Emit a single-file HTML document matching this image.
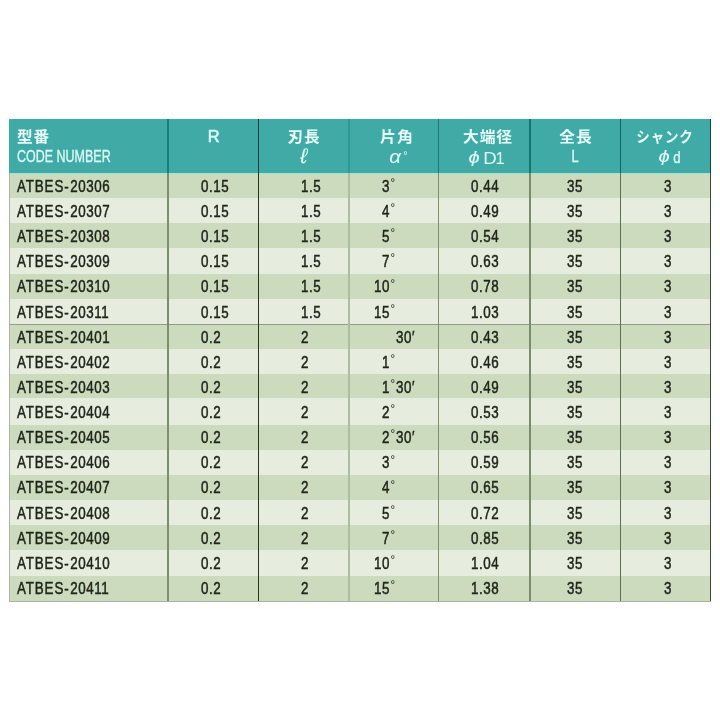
<!DOCTYPE html>
<html lang="ja"><head><meta charset="utf-8"><title>ATBES</title>
<style>
html,body{margin:0;padding:0;background:#fff;}
body{width:720px;height:720px;position:relative;overflow:hidden;font-family:"Liberation Sans","Noto Sans CJK JP",sans-serif;}
#t{position:absolute;left:9px;top:119px;width:702px;height:483px;}
#h{position:absolute;left:0;top:-.5px;width:702px;height:54px;background:#40aaa6;}
#hl{position:absolute;left:0;top:54px;width:702px;height:2px;background:linear-gradient(#a9dfcb,#c2e1c6);}
.r{position:absolute;left:0;width:702px;}
.o{background:#ccdbbd;}
.e{background:#e6edde;}
.v{position:absolute;top:-.5px;width:1px;height:483px;}
.c{position:absolute;white-space:nowrap;color:#20261b;font-size:17px;line-height:20px;height:20px;transform-origin:0 50%;transform:scaleX(.787);letter-spacing:.75px;-webkit-text-stroke:.5px #20261b;}
.ra{transform-origin:100% 50%;text-align:right;}
.hj{position:absolute;white-space:nowrap;color:#e9fffb;font-weight:bold;font-size:15px;line-height:18px;letter-spacing:.9px;transform-origin:50% 50%;}
.hs{position:absolute;white-space:nowrap;color:#dffcf8;font-size:16px;line-height:18px;transform-origin:50% 50%;}
.L{letter-spacing:1.1px}.H{margin:0 1.2px 0 .2px}.N{letter-spacing:.7px}
.st{-webkit-text-stroke:.3px #dffcf8;}
.dg{position:absolute;font-size:11.5px;line-height:16px;color:#1c1f1a;}
</style></head><body>
<div id="t">
<div id="h"></div>

<div class="r o" style="top:53.50px;height:26.20px"></div>
<div class="r e" style="top:78.70px;height:26.70px"></div>
<div class="r o" style="top:104.40px;height:26.00px"></div>
<div class="r e" style="top:129.40px;height:26.80px"></div>
<div class="r o" style="top:155.20px;height:25.30px"></div>
<div class="r e" style="top:179.50px;height:26.80px"></div>
<div class="r o" style="top:205.30px;height:25.90px"></div>
<div class="r e" style="top:230.20px;height:25.50px"></div>
<div class="r o" style="top:254.70px;height:25.60px"></div>
<div class="r e" style="top:279.30px;height:27.70px"></div>
<div class="r o" style="top:306.00px;height:25.50px"></div>
<div class="r e" style="top:330.50px;height:26.20px"></div>
<div class="r o" style="top:355.70px;height:26.30px"></div>
<div class="r e" style="top:381.00px;height:26.00px"></div>
<div class="r o" style="top:406.00px;height:25.70px"></div>
<div class="r e" style="top:430.70px;height:27.10px"></div>
<div class="r o" style="top:456.80px;height:25.40px"></div>
<div id="hl"></div>
<div style="position:absolute;left:0;top:204.5px;width:702px;height:1px;background:#8e9f83"></div>
<div class="v" style="left:158.0px;width:2px;background:#7d8e6f"></div>
<div class="v" style="left:158.0px;width:2px;height:54px;background:#157d7a"></div>
<div class="v" style="left:249.0px;width:1.2px;background:#2a331f"></div>
<div class="v" style="left:249.0px;width:1.2px;height:54px;background:#063c3c"></div>
<div class="v" style="left:338.9px;width:1.8px;background:#adbd9f"></div>
<div class="v" style="left:338.9px;width:1.8px;height:54px;background:#2f9a95"></div>
<div class="v" style="left:429.0px;width:1.2px;background:#7d8f70"></div>
<div class="v" style="left:429.0px;width:1.2px;height:54px;background:#1a7a77"></div>
<div class="v" style="left:520.0px;width:2px;background:#7b8c6d"></div>
<div class="v" style="left:520.0px;width:2px;height:54px;background:#127673"></div>
<div class="v" style="left:611.0px;width:1.2px;background:#5d6f52"></div>
<div class="v" style="left:611.0px;width:1.2px;height:54px;background:#0b6564"></div>
<div class="v" style="left:700.8px;width:1.2px;background:#3c4a3a"></div>
<div class="v" style="left:700.8px;width:1.2px;height:54px;background:#0a4944"></div>
<div style="position:absolute;left:0;top:54px;width:.7px;height:429px;background:#a9b5a0"></div>
<div style="position:absolute;left:0;top:482.2px;width:702px;height:.7px;background:#a9b1a1"></div>
</div>
<div class="hj" style="left:16.8px;top:128.1px;transform-origin:0 50%;transform:scaleX(1.04)">型番</div>
<div class="hs st" style="left:17.3px;top:146.5px;transform-origin:0 50%;transform:scaleX(.727);font-size:17.2px">CODE NUMBER</div>
<div class="hs" style="left:113.7px;width:200px;text-align:center;top:127.2px;font-size:16.5px;-webkit-text-stroke:.55px #dffcf8">R</div>
<div class="hj" style="left:204.39999999999998px;width:200px;text-align:center;top:128.4px;font-size:15px;transform:scaleX(1.04)">刃長</div>
<div class="hs" style="left:203.7px;width:200px;text-align:center;top:148px;font-size:21px;transform:scaleX(1.0);top:146.7px;-webkit-text-stroke:.1px #dffcf8"><i>ℓ</i></div>
<div class="hj" style="left:297.0px;width:200px;text-align:center;top:128.4px;font-size:15px;transform:scaleX(1.07)">片角</div>
<div class="hs" style="left:295.3px;width:200px;text-align:center;top:148px;font-size:18px;transform:scaleX(1.14);top:147.6px;-webkit-text-stroke:.05px #dffcf8"><i>α</i></div>
<div class="hs" style="left:305.4px;width:200px;text-align:center;top:148px;font-size:10.5px;transform:scaleX(1.0);top:145.6px">°</div>
<div class="hj" style="left:387.9px;width:200px;text-align:center;top:128.4px;font-size:15px;transform:scaleX(1.05)">大端径</div>
<div class="hs" style="left:373.9px;width:200px;text-align:center;top:148px;font-size:16px;transform:scaleX(1.25);top:149.1px;-webkit-text-stroke:.1px #dffcf8"><i>ϕ</i></div>
<div class="hs" style="left:389.5px;width:200px;text-align:center;top:148px;font-size:16.5px;transform:scaleX(1.13);top:149px">D</div>
<div class="hs" style="left:400px;width:200px;text-align:center;top:148px;font-size:16.5px;transform:scaleX(1.0);top:149px">1</div>
<div class="hj" style="left:475.79999999999995px;width:200px;text-align:center;top:128.4px;font-size:15px;transform:scaleX(1.05)">全長</div>
<div class="hs" style="left:475px;width:200px;text-align:center;top:148px;font-size:16px;transform:scaleX(0.8);top:148.3px;-webkit-text-stroke:.3px #dffcf8">L</div>
<div class="hj" style="left:565.4px;width:200px;text-align:center;top:128.4px;font-size:15px;transform:scaleX(0.9)">シャンク</div>
<div class="hs" style="left:564.4px;width:200px;text-align:center;top:148px;font-size:16px;transform:scaleX(1.25);top:148.4px;-webkit-text-stroke:.1px #dffcf8"><i>ϕ</i></div>
<div class="hs" style="left:576.7px;width:200px;text-align:center;top:148px;font-size:16.5px;transform:scaleX(0.8);top:147.9px;-webkit-text-stroke:.25px #dffcf8">d</div>
<div class="c" style="left:16.5px;top:176.80px"><span class="L">ATBES</span><span class="H">-</span><span class="N">20306</span></div>
<div class="c" style="left:200.5px;top:176.80px">0.15</div>
<div class="c" style="left:300.6px;top:176.80px">1.5</div>
<div class="c ra" style="left:290.3px;width:100px;top:176.80px">3</div>
<div class="dg" style="left:390.4px;top:174.00px">°</div>
<div class="c" style="left:471.3px;top:176.80px">0.44</div>
<div class="c" style="left:566.7px;top:176.80px">35</div>
<div class="c" style="left:664.2px;top:176.80px">3</div>
<div class="c" style="left:16.5px;top:201.94px"><span class="L">ATBES</span><span class="H">-</span><span class="N">20307</span></div>
<div class="c" style="left:200.5px;top:201.94px">0.15</div>
<div class="c" style="left:300.6px;top:201.94px">1.5</div>
<div class="c ra" style="left:290.3px;width:100px;top:201.94px">4</div>
<div class="dg" style="left:390.4px;top:199.14px">°</div>
<div class="c" style="left:471.3px;top:201.94px">0.49</div>
<div class="c" style="left:566.7px;top:201.94px">35</div>
<div class="c" style="left:664.2px;top:201.94px">3</div>
<div class="c" style="left:16.5px;top:227.08px"><span class="L">ATBES</span><span class="H">-</span><span class="N">20308</span></div>
<div class="c" style="left:200.5px;top:227.08px">0.15</div>
<div class="c" style="left:300.6px;top:227.08px">1.5</div>
<div class="c ra" style="left:290.3px;width:100px;top:227.08px">5</div>
<div class="dg" style="left:390.4px;top:224.28px">°</div>
<div class="c" style="left:471.3px;top:227.08px">0.54</div>
<div class="c" style="left:566.7px;top:227.08px">35</div>
<div class="c" style="left:664.2px;top:227.08px">3</div>
<div class="c" style="left:16.5px;top:252.22px"><span class="L">ATBES</span><span class="H">-</span><span class="N">20309</span></div>
<div class="c" style="left:200.5px;top:252.22px">0.15</div>
<div class="c" style="left:300.6px;top:252.22px">1.5</div>
<div class="c ra" style="left:290.3px;width:100px;top:252.22px">7</div>
<div class="dg" style="left:390.4px;top:249.42px">°</div>
<div class="c" style="left:471.3px;top:252.22px">0.63</div>
<div class="c" style="left:566.7px;top:252.22px">35</div>
<div class="c" style="left:664.2px;top:252.22px">3</div>
<div class="c" style="left:16.5px;top:277.36px"><span class="L">ATBES</span><span class="H">-</span><span class="N">20310</span></div>
<div class="c" style="left:200.5px;top:277.36px">0.15</div>
<div class="c" style="left:300.6px;top:277.36px">1.5</div>
<div class="c ra" style="left:290.3px;width:100px;top:277.36px">10</div>
<div class="dg" style="left:390.4px;top:274.56px">°</div>
<div class="c" style="left:471.3px;top:277.36px">0.78</div>
<div class="c" style="left:566.7px;top:277.36px">35</div>
<div class="c" style="left:664.2px;top:277.36px">3</div>
<div class="c" style="left:16.5px;top:302.50px"><span class="L">ATBES</span><span class="H">-</span><span class="N">20311</span></div>
<div class="c" style="left:200.5px;top:302.50px">0.15</div>
<div class="c" style="left:300.6px;top:302.50px">1.5</div>
<div class="c ra" style="left:290.3px;width:100px;top:302.50px">15</div>
<div class="dg" style="left:390.4px;top:299.70px">°</div>
<div class="c" style="left:471.3px;top:302.50px">1.03</div>
<div class="c" style="left:566.7px;top:302.50px">35</div>
<div class="c" style="left:664.2px;top:302.50px">3</div>
<div class="c" style="left:16.5px;top:327.64px"><span class="L">ATBES</span><span class="H">-</span><span class="N">20401</span></div>
<div class="c" style="left:200.5px;top:327.64px">0.2</div>
<div class="c" style="left:300.6px;top:327.64px">2</div>
<div class="c" style="left:396px;top:327.64px">30′</div>
<div class="c" style="left:471.3px;top:327.64px">0.43</div>
<div class="c" style="left:566.7px;top:327.64px">35</div>
<div class="c" style="left:664.2px;top:327.64px">3</div>
<div class="c" style="left:16.5px;top:352.78px"><span class="L">ATBES</span><span class="H">-</span><span class="N">20402</span></div>
<div class="c" style="left:200.5px;top:352.78px">0.2</div>
<div class="c" style="left:300.6px;top:352.78px">2</div>
<div class="c ra" style="left:290.3px;width:100px;top:352.78px">1</div>
<div class="dg" style="left:390.4px;top:349.98px">°</div>
<div class="c" style="left:471.3px;top:352.78px">0.46</div>
<div class="c" style="left:566.7px;top:352.78px">35</div>
<div class="c" style="left:664.2px;top:352.78px">3</div>
<div class="c" style="left:16.5px;top:377.92px"><span class="L">ATBES</span><span class="H">-</span><span class="N">20403</span></div>
<div class="c" style="left:200.5px;top:377.92px">0.2</div>
<div class="c" style="left:300.6px;top:377.92px">2</div>
<div class="c ra" style="left:290.3px;width:100px;top:377.92px">1</div>
<div class="dg" style="left:390.4px;top:375.12px">°</div>
<div class="c" style="left:396px;top:377.92px">30′</div>
<div class="c" style="left:471.3px;top:377.92px">0.49</div>
<div class="c" style="left:566.7px;top:377.92px">35</div>
<div class="c" style="left:664.2px;top:377.92px">3</div>
<div class="c" style="left:16.5px;top:403.06px"><span class="L">ATBES</span><span class="H">-</span><span class="N">20404</span></div>
<div class="c" style="left:200.5px;top:403.06px">0.2</div>
<div class="c" style="left:300.6px;top:403.06px">2</div>
<div class="c ra" style="left:290.3px;width:100px;top:403.06px">2</div>
<div class="dg" style="left:390.4px;top:400.26px">°</div>
<div class="c" style="left:471.3px;top:403.06px">0.53</div>
<div class="c" style="left:566.7px;top:403.06px">35</div>
<div class="c" style="left:664.2px;top:403.06px">3</div>
<div class="c" style="left:16.5px;top:428.20px"><span class="L">ATBES</span><span class="H">-</span><span class="N">20405</span></div>
<div class="c" style="left:200.5px;top:428.20px">0.2</div>
<div class="c" style="left:300.6px;top:428.20px">2</div>
<div class="c ra" style="left:290.3px;width:100px;top:428.20px">2</div>
<div class="dg" style="left:390.4px;top:425.40px">°</div>
<div class="c" style="left:396px;top:428.20px">30′</div>
<div class="c" style="left:471.3px;top:428.20px">0.56</div>
<div class="c" style="left:566.7px;top:428.20px">35</div>
<div class="c" style="left:664.2px;top:428.20px">3</div>
<div class="c" style="left:16.5px;top:453.34px"><span class="L">ATBES</span><span class="H">-</span><span class="N">20406</span></div>
<div class="c" style="left:200.5px;top:453.34px">0.2</div>
<div class="c" style="left:300.6px;top:453.34px">2</div>
<div class="c ra" style="left:290.3px;width:100px;top:453.34px">3</div>
<div class="dg" style="left:390.4px;top:450.54px">°</div>
<div class="c" style="left:471.3px;top:453.34px">0.59</div>
<div class="c" style="left:566.7px;top:453.34px">35</div>
<div class="c" style="left:664.2px;top:453.34px">3</div>
<div class="c" style="left:16.5px;top:478.48px"><span class="L">ATBES</span><span class="H">-</span><span class="N">20407</span></div>
<div class="c" style="left:200.5px;top:478.48px">0.2</div>
<div class="c" style="left:300.6px;top:478.48px">2</div>
<div class="c ra" style="left:290.3px;width:100px;top:478.48px">4</div>
<div class="dg" style="left:390.4px;top:475.68px">°</div>
<div class="c" style="left:471.3px;top:478.48px">0.65</div>
<div class="c" style="left:566.7px;top:478.48px">35</div>
<div class="c" style="left:664.2px;top:478.48px">3</div>
<div class="c" style="left:16.5px;top:503.62px"><span class="L">ATBES</span><span class="H">-</span><span class="N">20408</span></div>
<div class="c" style="left:200.5px;top:503.62px">0.2</div>
<div class="c" style="left:300.6px;top:503.62px">2</div>
<div class="c ra" style="left:290.3px;width:100px;top:503.62px">5</div>
<div class="dg" style="left:390.4px;top:500.82px">°</div>
<div class="c" style="left:471.3px;top:503.62px">0.72</div>
<div class="c" style="left:566.7px;top:503.62px">35</div>
<div class="c" style="left:664.2px;top:503.62px">3</div>
<div class="c" style="left:16.5px;top:528.76px"><span class="L">ATBES</span><span class="H">-</span><span class="N">20409</span></div>
<div class="c" style="left:200.5px;top:528.76px">0.2</div>
<div class="c" style="left:300.6px;top:528.76px">2</div>
<div class="c ra" style="left:290.3px;width:100px;top:528.76px">7</div>
<div class="dg" style="left:390.4px;top:525.96px">°</div>
<div class="c" style="left:471.3px;top:528.76px">0.85</div>
<div class="c" style="left:566.7px;top:528.76px">35</div>
<div class="c" style="left:664.2px;top:528.76px">3</div>
<div class="c" style="left:16.5px;top:553.90px"><span class="L">ATBES</span><span class="H">-</span><span class="N">20410</span></div>
<div class="c" style="left:200.5px;top:553.90px">0.2</div>
<div class="c" style="left:300.6px;top:553.90px">2</div>
<div class="c ra" style="left:290.3px;width:100px;top:553.90px">10</div>
<div class="dg" style="left:390.4px;top:551.10px">°</div>
<div class="c" style="left:471.3px;top:553.90px">1.04</div>
<div class="c" style="left:566.7px;top:553.90px">35</div>
<div class="c" style="left:664.2px;top:553.90px">3</div>
<div class="c" style="left:16.5px;top:579.04px"><span class="L">ATBES</span><span class="H">-</span><span class="N">20411</span></div>
<div class="c" style="left:200.5px;top:579.04px">0.2</div>
<div class="c" style="left:300.6px;top:579.04px">2</div>
<div class="c ra" style="left:290.3px;width:100px;top:579.04px">15</div>
<div class="dg" style="left:390.4px;top:576.24px">°</div>
<div class="c" style="left:471.3px;top:579.04px">1.38</div>
<div class="c" style="left:566.7px;top:579.04px">35</div>
<div class="c" style="left:664.2px;top:579.04px">3</div>
</body></html>
